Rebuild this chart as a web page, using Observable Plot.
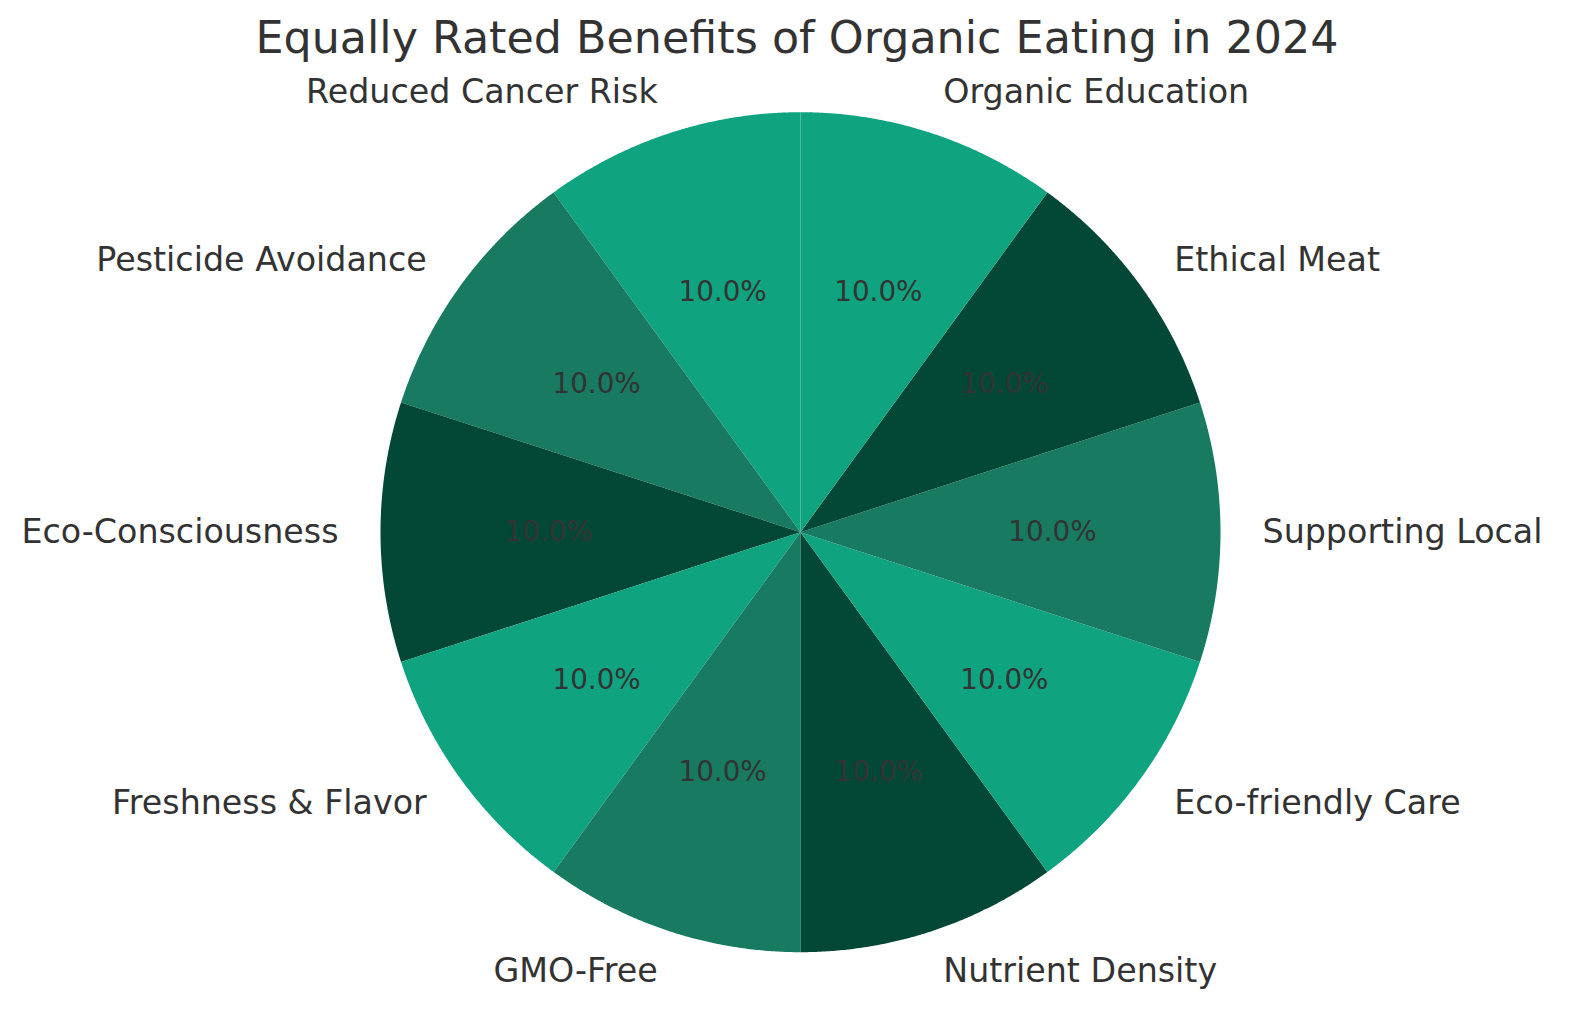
<!DOCTYPE html>
<html>
<head>
<meta charset="utf-8">
<script src="https://cdn.jsdelivr.net/npm/d3@7"></script>
<script src="https://cdn.jsdelivr.net/npm/@observablehq/plot@0.6"></script>
<style>
  body { margin: 0; background: #fff; font-family: "DejaVu Sans", sans-serif; }
  #title { height: 84px; line-height: 76px; text-align: center; font-size: 44.4px; color: #333333; white-space: nowrap; overflow: visible; }
  #chart svg { overflow: visible; }
</style>
</head>
<body>
<div id="title">Equally Rated Benefits of Organic Eating in 2024</div>
<div id="chart"></div>
<script>
// Data (counterclockwise from 12 o'clock)
const categories = [
  "Reduced Cancer Risk", "Pesticide Avoidance", "Eco-Consciousness", "Freshness & Flavor",
  "GMO-Free", "Nutrient Density", "Eco-friendly Care", "Supporting Local",
  "Ethical Meat", "Organic Education"
];
const values = [10, 10, 10, 10, 10, 10, 10, 10, 10, 10];
const sliceColors = ["#10a37f", "#177a61", "#034837"];

// Geometry in data units (radius = 1)
const W = 1594, H = 930, R = 420, CX = 800, CY = 447.7;
const total = d3.sum(values);
let acc = 0;
const slices = categories.map((c, i) => {
  const a0 = 90 + 360 * acc / total;
  acc += values[i];
  const a1 = 90 + 360 * acc / total;
  return {category: c, value: values[i], a0, a1, mid: (a0 + a1) / 2};
});
const rad = d => d * Math.PI / 180;

const polygons = [];
for (const s of slices) {
  polygons.push({category: s.category, x: 0, y: 0});
  const n = 120;
  for (let k = 0; k <= n; k++) {
    const a = rad(s.a0 + (s.a1 - s.a0) * k / n);
    polygons.push({category: s.category, x: Math.cos(a), y: Math.sin(a)});
  }
  polygons.push({category: s.category, x: 0, y: 0});
}

const labels = slices.map(s => ({
  text: s.category,
  x: 1.1 * Math.cos(rad(s.mid)),
  y: 1.1 * Math.sin(rad(s.mid))
}));
const pcts = slices.map(s => ({
  text: (100 * s.value / total).toFixed(1) + "%",
  x: 0.6 * Math.cos(rad(s.mid)),
  y: 0.6 * Math.sin(rad(s.mid))
}));

const chart = Plot.plot({
  width: W,
  height: H,
  margin: 0,
  style: {background: "transparent", overflow: "visible"},
  x: {domain: [-CX / R, (W - CX) / R], axis: null},
  y: {domain: [-(H - CY) / R, CY / R], axis: null},
  color: {domain: categories, range: categories.map((_, i) => sliceColors[i % 3])},
  marks: [
    Plot.line(polygons, {x: "x", y: "y", z: "category", fill: "category", stroke: null, curve: "linear"}),
    Plot.text(labels.filter(d => d.x < 0), {x: "x", y: "y", text: "text", textAnchor: "end",
      fontSize: 33.3, fill: "#333333", fontFamily: "DejaVu Sans"}),
    Plot.text(labels.filter(d => d.x >= 0), {x: "x", y: "y", text: "text", textAnchor: "start",
      fontSize: 33.3, fill: "#333333", fontFamily: "DejaVu Sans"}),
    Plot.text(pcts, {x: "x", y: "y", text: "text", textAnchor: "middle",
      fontSize: 27.8, fill: "#333333", fontFamily: "DejaVu Sans"})
  ]
});
document.getElementById("chart").appendChild(chart);
</script>
</body>
</html>
